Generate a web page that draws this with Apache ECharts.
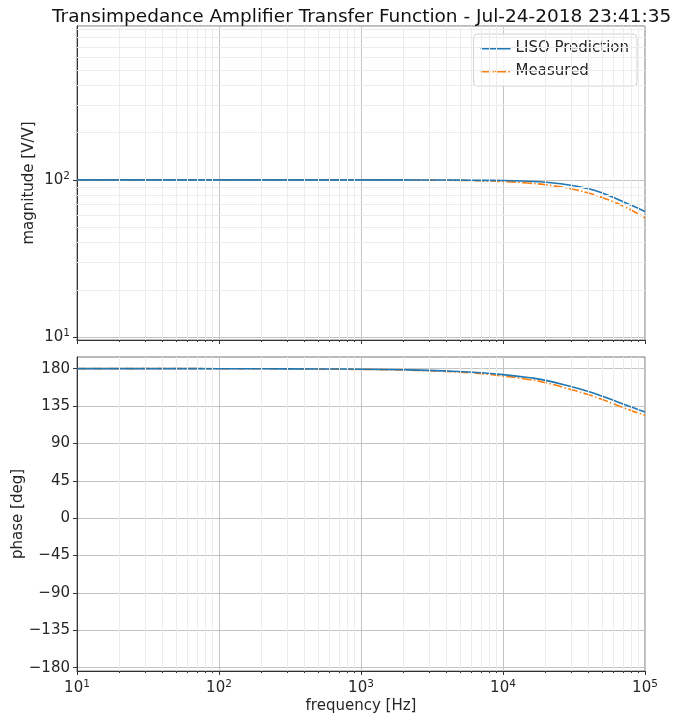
<!DOCTYPE html>
<html lang="en">
<head>
    <meta charset="UTF-8">
    <title>Transimpedance Amplifier Transfer Function</title>
    <script src="https://cdn.jsdelivr.net/npm/echarts@6/dist/echarts.min.js"></script>
    <style>
        html, body { margin: 0; padding: 0; background: #fff; }
        #chart { width: 673px; height: 714px; }
    </style>
</head>
<body>
    <div id="chart"></div>
    <script>
        // frequency points (Hz)
        const freq = [10, 20, 50, 100, 200, 500, 1000, 2000, 3000, 5000, 7000, 10000, 15000, 20000, 30000, 40000, 50000, 60000, 70000, 80000, 90000, 100000];
        // magnitude [V/V]
        const magLiso = [100, 100, 100, 100, 100, 100, 100, 99.9, 99.8, 99.6, 99.3, 99.1, 98.0, 96.5, 92.5, 87.8, 82.5, 77.2, 72.7, 69.0, 65.8, 63.0];
        const magMeas = [100, 100, 100, 100, 100, 100, 99.9, 99.8, 99.6, 99.2, 98.6, 97.6, 95.4, 93.0, 87.8, 82.4, 77.3, 72.5, 68.2, 64.3, 60.6, 57.3];
        // phase [deg]
        const phLiso = [180, 180, 180, 179.9, 179.8, 179.6, 179.3, 178.6, 177.9, 176.4, 175.0, 172.8, 169.3, 165.9, 158.5, 152.5, 146.8, 141.8, 137.5, 133.8, 130.6, 127.8];
        const phMeas = [180, 180, 180, 179.9, 179.8, 179.5, 179.1, 178.3, 177.4, 175.7, 174.0, 171.1, 167.0, 163.1, 155.0, 148.6, 142.8, 137.6, 133.2, 129.5, 126.4, 123.8];
        // tick labels / minor grid
        const phaseTicks = [-180, -135, -90, -45, 0, 45, 90, 135, 180];
        const minorFreq = [20, 30, 40, 50, 60, 70, 80, 90, 200, 300, 400, 500, 600, 700, 800, 900,
            2000, 3000, 4000, 5000, 6000, 7000, 8000, 9000, 20000, 30000, 40000, 50000, 60000, 70000, 80000, 90000];
        const minorMag = [20, 30, 40, 50, 60, 70, 80, 90, 200, 300, 400, 500, 600, 700, 800, 900];

        const txt = '#262626';
        const major = '#c4c4c4';
        const minor = '#ececec';
        const font = 'DejaVu Sans';

        function pairs(ys) {
            return freq.map(function (f, i) { return [f, ys[i]]; });
        }
        function powLabel(v) {
            return '{b|10}{s|' + Math.round(Math.log10(v)) + '}';
        }
        const powRich = {
            b: { fontSize: 15, color: txt, fontFamily: font },
            s: { fontSize: 10.5, color: txt, fontFamily: font, verticalAlign: 'top', padding: [0, 0, 7, 0] }
        };

        function minorLines(xs, ys) {
            let d = xs.map(function (v) { return { xAxis: v }; });
            (ys || []).forEach(function (v) { d.push({ yAxis: v }); });
            return {
                silent: true,
                symbol: ['none', 'none'],
                label: { show: false },
                lineStyle: { color: minor, width: 1, type: 'solid' },
                emphasis: { disabled: true },
                animation: false,
                data: d
            };
        }

        const liso = { color: '#1f77b4', width: 1.6, type: 'solid' };
        const meas = { color: '#ff7f0e', width: 1.6, type: [9.6, 2.4, 1.5, 2.4] };

        function xAxisOpt(gi, labels) {
            return {
                type: 'log', logBase: 10, gridIndex: gi, min: 10, max: 100000, position: 'bottom',
                axisLine: { onZero: false, lineStyle: { color: '#333' } },
                axisTick: { length: 4, lineStyle: { color: '#333' } },
                axisLabel: labels ? { formatter: powLabel, rich: powRich, margin: 8 } : { show: false },
                splitLine: { show: true, lineStyle: { color: major } },
                name: labels ? 'frequency [Hz]' : '',
                nameLocation: 'middle', nameGap: 28,
                nameTextStyle: { fontSize: 15, color: txt, fontFamily: font }
            };
        }
        // second x axis per grid, only for the small ticks at 2..9
        function minorXAxis(gi) {
            return {
                type: 'log', logBase: 10, gridIndex: gi, min: 10, max: 100000, position: 'bottom',
                axisLine: { show: false, onZero: false },
                axisTick: { show: true, length: 2, lineStyle: { color: '#333' }, customValues: minorFreq },
                axisLabel: { show: false },
                splitLine: { show: false }
            };
        }

        const chart = echarts.init(document.getElementById('chart'));
        chart.setOption({
            animation: false,
            textStyle: { fontFamily: font },
            title: {
                text: 'Transimpedance Amplifier Transfer Function - Jul-24-2018 23:41:35',
                left: 47, top: 3,
                textStyle: { fontSize: 18.5, fontWeight: 'normal', color: '#111', fontFamily: font }
            },
            legend: {
                data: ['LISO Prediction', 'Measured'],
                orient: 'vertical',
                right: 36, top: 34,
                itemWidth: 30, itemHeight: 2, itemGap: 6,
                padding: [6, 8, 6, 6],
                borderColor: '#d0d0d0', borderWidth: 1, borderRadius: 4,
                backgroundColor: 'rgba(255,255,255,0.85)',
                textStyle: { fontSize: 15, color: txt, fontFamily: font, lineHeight: 17 }
            },
            grid: [
                { left: 77, top: 26, width: 568, height: 314, show: true, borderColor: '#777', borderWidth: 1, containLabel: false, outerBoundsMode: 'none' },
                { left: 77, top: 357, width: 568, height: 314, show: true, borderColor: '#777', borderWidth: 1, containLabel: false, outerBoundsMode: 'none' }
            ],
            xAxis: [xAxisOpt(0, false), xAxisOpt(1, true), minorXAxis(0), minorXAxis(1)],
            yAxis: [
                {
                    type: 'log', logBase: 10, gridIndex: 0, min: 9.6, max: 950,
                    axisLine: { show: true, lineStyle: { color: '#333' } },
                    axisTick: { show: true, length: 4, lineStyle: { color: '#333' } },
                    axisLabel: { formatter: powLabel, rich: powRich, margin: 7, showMinLabel: false, showMaxLabel: false },
                    splitLine: { show: true, lineStyle: { color: major } },
                    name: 'magnitude [V/V]', nameLocation: 'middle', nameGap: 40, nameMoveOverlap: false,
                    nameTextStyle: { fontSize: 15, color: txt, fontFamily: font }
                },
                {
                    type: 'value', gridIndex: 1, min: -184, max: 194,
                    axisLine: { show: true, onZero: false, lineStyle: { color: '#333' } },
                    axisTick: { show: true, length: 4, lineStyle: { color: '#333' }, customValues: phaseTicks },
                    axisLabel: {
                        customValues: phaseTicks, margin: 7, fontSize: 15, color: txt, fontFamily: font,
                        formatter: function (v) { return v < 0 ? '\u2212' + Math.abs(v) : String(v); }
                    },
                    splitLine: { show: true, lineStyle: { color: major } },
                    name: 'phase [deg]', nameLocation: 'middle', nameGap: 51, nameMoveOverlap: false,
                    nameTextStyle: { fontSize: 15, color: txt, fontFamily: font }
                }
            ],
            series: [
                {
                    name: 'grid-top', type: 'line', xAxisIndex: 0, yAxisIndex: 0, z: 1,
                    data: pairs(magLiso), showSymbol: false, silent: true,
                    lineStyle: { opacity: 0 },
                    markLine: minorLines(minorFreq, minorMag)
                },
                {
                    name: 'grid-bottom', type: 'line', xAxisIndex: 1, yAxisIndex: 1, z: 1,
                    data: pairs(phLiso), showSymbol: false, silent: true,
                    lineStyle: { opacity: 0 },
                    markLine: minorLines(minorFreq)
                },
                {
                    name: 'LISO Prediction', type: 'line', xAxisIndex: 0, yAxisIndex: 0, z: 4,
                    data: pairs(magLiso), smooth: 0.5, symbol: 'none', color: liso.color, lineStyle: liso
                },
                {
                    name: 'Measured', type: 'line', xAxisIndex: 0, yAxisIndex: 0, z: 3,
                    data: pairs(magMeas), smooth: 0.5, symbol: 'none', color: meas.color, lineStyle: meas
                },
                {
                    name: 'LISO Prediction', type: 'line', xAxisIndex: 1, yAxisIndex: 1, z: 4,
                    data: pairs(phLiso), smooth: 0.5, symbol: 'none', color: liso.color, lineStyle: liso
                },
                {
                    name: 'Measured', type: 'line', xAxisIndex: 1, yAxisIndex: 1, z: 3,
                    data: pairs(phMeas), smooth: 0.5, symbol: 'none', color: meas.color, lineStyle: meas
                }
            ]
        });
    </script>
</body>
</html>
